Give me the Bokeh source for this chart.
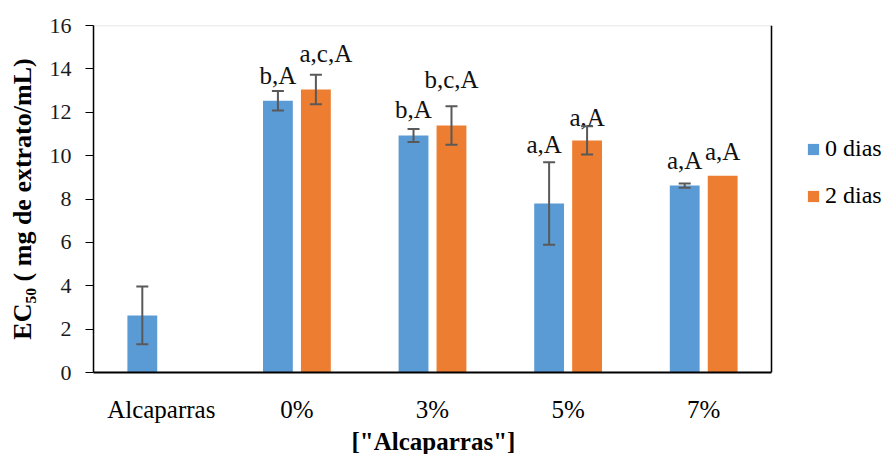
from bokeh.plotting import figure
from bokeh.models import (ColumnDataSource, Whisker, TeeHead, Legend, LegendItem, Span, BoxAnnotation,
                          SingleIntervalTicker, FixedTicker, Range1d, Title)
from bokeh.transform import dodge
from bokeh.core.properties import value
from bokeh.embed import file_html
from bokeh.resources import INLINE

# ---- data ----
categories = ["Alcaparras", "0%", "3%", "5%", "7%"]
series_names = ["0 dias", "2 dias"]
d0_mean = [2.63, 12.53, 10.93, 7.79, 8.62]
d0_err = [1.33, 0.45, 0.30, 1.90, 0.10]
d2_mean = [None, 13.05, 11.39, 10.70, 9.07]
d2_err = [None, 0.68, 0.89, 0.65, None]
d0_labels = ["", "b,A", "b,A", "a,A", "a,A"]
d2_labels = ["", "a,c,A", "b,c,A", "a,A", "a,A"]
x_title = '["Alcaparras"]'
y_title = "EC\u2085\u2080 ( mg de extrato/mL)"
# annotation placement (gap above the error bar, in axis units; horizontal nudge in px)
d0_label_gap = [0, 0.71, 0.90, 0.82, 1.05]
d2_label_gap = [0, 1.00, 1.23, 0.42, 1.14]
d0_label_dx = [0, 0, 0, -5, 0]
d2_label_dx = [0, 10, 0, 0, 0]
y_ticks_interval = 2
y_max = 16

BLUE = "#5B9BD5"
ORANGE = "#ED7D31"
ERR = "#595959"
FONT = "Liberation Serif"

n = len(categories)
pos = list(range(1, n + 1))           # category slots on the x scale
PLOT_W = 678                            # pixels for the category area
LEG_W = 118                             # extra pixels on the right for the legend
x_start = 0.5
x_end_cats = n + 0.5
x_end = x_start + n * (PLOT_W + LEG_W) / PLOT_W


def build(mean, err, labels, gaps, dxs):
    x, top, ly, lab, ldx, lx = [], [], [], [], [], []
    ex, eup, elo = [], [], []
    for xi, m, e, l, g, d in zip(pos, mean, err, labels, gaps, dxs):
        if m is None:
            continue
        x.append(xi)
        top.append(m)
        ee = e if e is not None else 0.0
        if l:
            lx.append(xi)
            ly.append(m + ee + g)
            lab.append(l)
            ldx.append(d)
        if e is not None:
            ex.append(xi)
            eup.append(m + e)
            elo.append(m - e)
    bars = ColumnDataSource(dict(x=x, top=top))
    lsrc = ColumnDataSource(dict(x=lx, ly=ly, lab=lab, ldx=ldx))
    errs = ColumnDataSource(dict(x=ex, upper=eup, lower=elo))
    return bars, lsrc, errs


src0, lab0, err0 = build(d0_mean, d0_err, d0_labels, d0_label_gap, d0_label_dx)
src2, lab2, err2 = build(d2_mean, d2_err, d2_labels, d2_label_gap, d2_label_dx)

p = figure(x_range=Range1d(x_start, x_end), y_range=Range1d(0, y_max),
           frame_width=PLOT_W + LEG_W, frame_height=347,
           min_border_left=93, min_border_right=0, min_border_top=25, min_border_bottom=60,
           output_backend="svg", toolbar_location=None, tools="")

p.background_fill_color = "white"
p.border_fill_color = "white"
p.outline_line_color = None
p.xgrid.grid_line_color = None
p.ygrid.grid_line_color = None

# plot-area border (top grey, right black)
p.add_layout(BoxAnnotation(left=x_start, right=x_end_cats, bottom=0, top=y_max,
                           fill_alpha=0, line_color="#8c8c8c", line_width=1.5, level="underlay"))
p.add_layout(Span(location=x_end_cats, dimension="height", line_color="black", line_width=1.5))

off = 0.14
w = 0.22
r0 = p.vbar(x=dodge("x", -off), top="top", width=w, source=src0,
            fill_color=BLUE, line_color=None)
r2 = p.vbar(x=dodge("x", off), top="top", width=w, source=src2,
            fill_color=ORANGE, line_color=None)

for es, o in ((err0, -off), (err2, off)):
    wk = Whisker(source=es, base=dodge("x", o), upper="upper", lower="lower",
                 line_color=ERR, line_width=2, level="annotation",
                 upper_head=TeeHead(size=12, line_color=ERR, line_width=2),
                 lower_head=TeeHead(size=12, line_color=ERR, line_width=2))
    p.add_layout(wk)

for s, o in ((lab0, -off), (lab2, off)):
    p.text(x=dodge("x", o), y="ly", text="lab", source=s,
           x_offset="ldx", text_align="center", text_baseline="middle",
           text_font=value(FONT), text_font_size="25px", text_color="#111111")

# axes
yax = p.yaxis[0]
yax.ticker = SingleIntervalTicker(interval=y_ticks_interval)
yax.axis_label = y_title
yax.axis_label_text_font = FONT
yax.axis_label_text_font_style = "bold"
yax.axis_label_text_font_size = "26px"
yax.axis_label_text_color = "black"
yax.axis_label_standoff = 10
yax.major_label_text_font = FONT
yax.major_label_text_font_size = "22px"
yax.major_label_text_color = "#1a1a1a"
yax.major_label_standoff = 14
yax.major_tick_in = 0
yax.major_tick_out = 8
yax.minor_tick_line_color = None
yax.major_tick_line_color = "black"
yax.axis_line_color = "black"
yax.axis_line_width = 1.5

xax = p.xaxis[0]
xax.ticker = FixedTicker(ticks=pos)
xax.major_label_overrides = {xi: c for xi, c in zip(pos, categories)}
xax.bounds = (x_start, x_end_cats)
xax.major_label_text_font = FONT
xax.major_label_text_font_size = "25px"
xax.major_label_text_color = "black"
xax.major_label_standoff = 17
xax.major_tick_line_color = None
xax.minor_tick_line_color = None
xax.axis_line_color = "black"
xax.axis_line_width = 2

# x-axis title centred under the category area (not under the legend strip)
title_half_w = 81
p.add_layout(Title(text=x_title, align="left", offset=PLOT_W / 2 - title_half_w,
                   text_font=FONT, text_font_style="bold", text_font_size="25px",
                   text_color="black", standoff=0), "below")

legend = Legend(items=[LegendItem(label=series_names[0], renderers=[r0]),
                       LegendItem(label=series_names[1], renderers=[r2])],
                location=(PLOT_W + 35, 163), orientation="vertical",
                glyph_width=14, glyph_height=14, label_standoff=5,
                label_text_font=FONT, label_text_font_size="24px", label_text_color="black",
                spacing=20, padding=0, margin=0,
                border_line_color=None, background_fill_alpha=0)
p.add_layout(legend, "center")

open("out.html", "w").write(file_html(p, INLINE))
